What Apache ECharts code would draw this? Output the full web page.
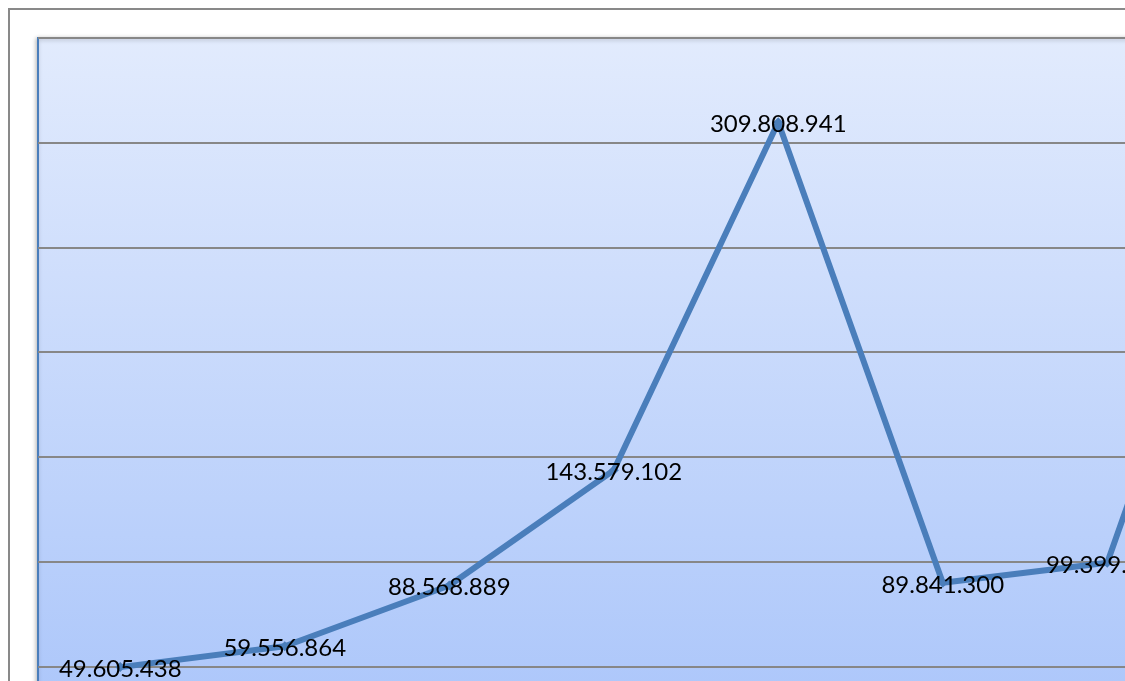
<!DOCTYPE html>
<html>
<head>
<meta charset="utf-8">
<script src="https://cdn.jsdelivr.net/npm/echarts@6/dist/echarts.min.js"></script>
<style>
html,body{margin:0;padding:0;background:#fff;overflow:hidden;width:1125px;height:681px;}
#chart{width:1500px;height:800px;}
</style>
</head>
<body>
<div id="chart"></div>
<script>
const categories = ['1','2','3','4','5','6','7','8'];
const values = [49605438, 59556864, 88568889, 143579102, 309808941, 89841300, 99399000, 322000000];
const yTicks = {min: 0, max: 350000000, interval: 50000000};

function fmt(v){
  return String(Math.round(v)).replace(/\B(?=(\d{3})+(?!\d))/g, '.');
}

const chart = echarts.init(document.getElementById('chart'), null, {renderer:'canvas'});
chart.setOption({
  animation: false,
  backgroundColor: '#ffffff',
  graphic: [{
    type: 'rect', z: -10,
    shape: {x: 9, y: 9, width: 1600, height: 900},
    style: {fill: '#ffffff', stroke: '#898989', lineWidth: 2}
  }],
  grid: {
    left: 38, top: 38, width: 1316, height: 733,
    show: true,
    borderColor: '#4a7ebb', borderWidth: 2,
    shadowColor: 'rgba(0,0,0,0.25)', shadowBlur: 4, shadowOffsetX: -1, shadowOffsetY: 1,
    backgroundColor: {
      type: 'linear', x: 0, y: 0, x2: 0, y2: 1,
      colorStops: [{offset: 0, color: '#e2ebfd'}, {offset: 1, color: '#a7c3fa'}]
    }
  },
  xAxis: {
    type: 'category', data: categories, boundaryGap: true,
    axisLine: {show: false}, axisTick: {show: false}, axisLabel: {show: false}
  },
  yAxis: {
    type: 'value', min: yTicks.min, max: yTicks.max, interval: yTicks.interval,
    axisLine: {show: false}, axisTick: {show: false}, axisLabel: {show: false},
    splitLine: {show: true, lineStyle: {color: '#878787', width: 2}}
  },
  series: [{
    type: 'line', data: values,
    lineStyle: {color: '#4a7ebb', width: 6},
    itemStyle: {color: '#4a7ebb'},
    symbol: 'diamond', symbolSize: 10, showSymbol: true,
    label: {
      show: true, position: 'inside', color: '#000', offset: [0, 2],
      fontFamily: 'Lato', fontSize: 24,
      formatter: p => fmt(p.value)
    }
  }]
});
</script>
</body>
</html>
